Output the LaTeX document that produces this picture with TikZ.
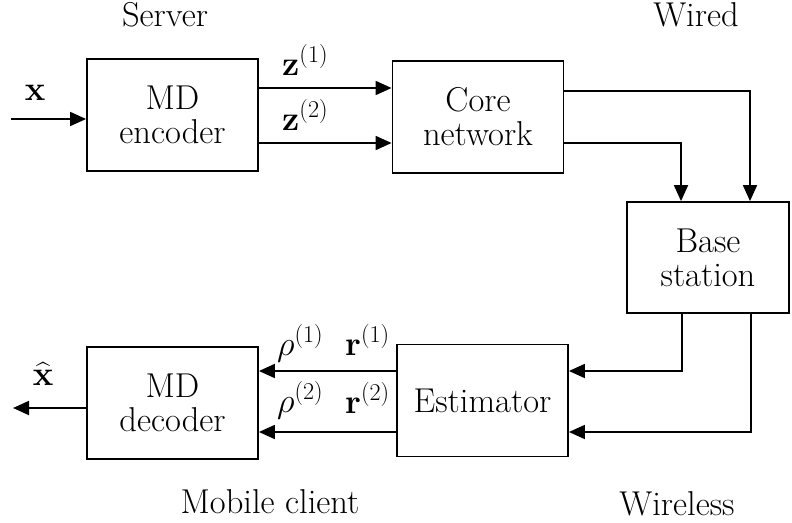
\RequirePackage{fix-cm}
\documentclass[tikz,border=0pt]{standalone}
\usepackage{amsmath}
\usetikzlibrary{arrows.meta}
\begin{document}
\begin{tikzpicture}[x=1pt,y=-1pt,
  box/.style={draw,line width=1.8pt,minimum width=171pt,minimum height=112pt,align=center,inner sep=0pt},
  arr/.style={line width=1.8pt,-{Triangle[length=16pt,width=14pt]}},
  lbl/.style={anchor=base,inner sep=0pt},
  lblw/.style={anchor=base west,inner sep=0pt},
  font=\fontsize{34.5}{34}\selectfont]
\useasboundingbox (0,0) rectangle (792,522);
\node[box] (enc) at (172.5,115) {MD\\encoder};
\node[box] (core) at (478,117) {Core\\network};
\node[box,minimum width=162pt,minimum height=111pt] (bs) at (708,257.5) {Base\\station};
\node[box] (est) at (482.5,400.5) {Estimator};
\node[box] (dec) at (172.5,403) {MD\\decoder};
\node[lbl] (tserver) at (165,27) {Server};
\node[lbl] (twired) at (696,27) {Wired};
\node[lbl] (tmobile) at (270,513) {Mobile client};
\node[lbl] (twireless) at (677,515) {Wireless};
\node[lbl] (lx) at (35,100) {$\mathbf{x}$};
\node[lblw] (lz1) at (282,75) {$\mathbf{z}^{(1)}$};
\node[lblw] (lz2) at (282,130) {$\mathbf{z}^{(2)}$};
\node[lblw] (lrho1) at (277,355) {$\rho^{(1)}$};
\node[lblw] (lr1) at (345,355) {$\mathbf{r}^{(1)}$};
\node[lblw] (lrho2) at (277,412) {$\rho^{(2)}$};
\node[lblw] (lr2) at (345,413) {$\mathbf{r}^{(2)}$};
\node[lbl] (lxh) at (43,385) {$\widehat{\mathbf{x}}$};
\coordinate (xin) at (11,119);
\coordinate (yz1) at (0,88);
\coordinate (yz2) at (0,143);
\coordinate (yc1) at (0,91);
\coordinate (yc2) at (0,143);
\coordinate (xw1) at (750,0);
\coordinate (xw2) at (681,0);
\coordinate (xb1) at (682,0);
\coordinate (xb2) at (751,0);
\coordinate (yr1) at (0,371);
\coordinate (yr2) at (0,432);
\coordinate (xout) at (13,408);
\draw[arr] (xin) -- (xin -| enc.west);
\draw[arr] (yz1 -| enc.east) -- (yz1 -| core.west);
\draw[arr] (yz2 -| enc.east) -- (yz2 -| core.west);
\draw[arr] (yc1 -| core.east) -| (xw1 |- bs.north);
\draw[arr] (yc2 -| core.east) -| (xw2 |- bs.north);
\draw[arr] (xb1 |- bs.south) |- (yr1 -| est.east);
\draw[arr] (xb2 |- bs.south) |- (yr2 -| est.east);
\draw[arr] (yr1 -| est.west) -- (yr1 -| dec.east);
\draw[arr] (yr2 -| est.west) -- (yr2 -| dec.east);
\draw[arr] (xout -| dec.west) -- (xout);
\end{tikzpicture}
\end{document}
